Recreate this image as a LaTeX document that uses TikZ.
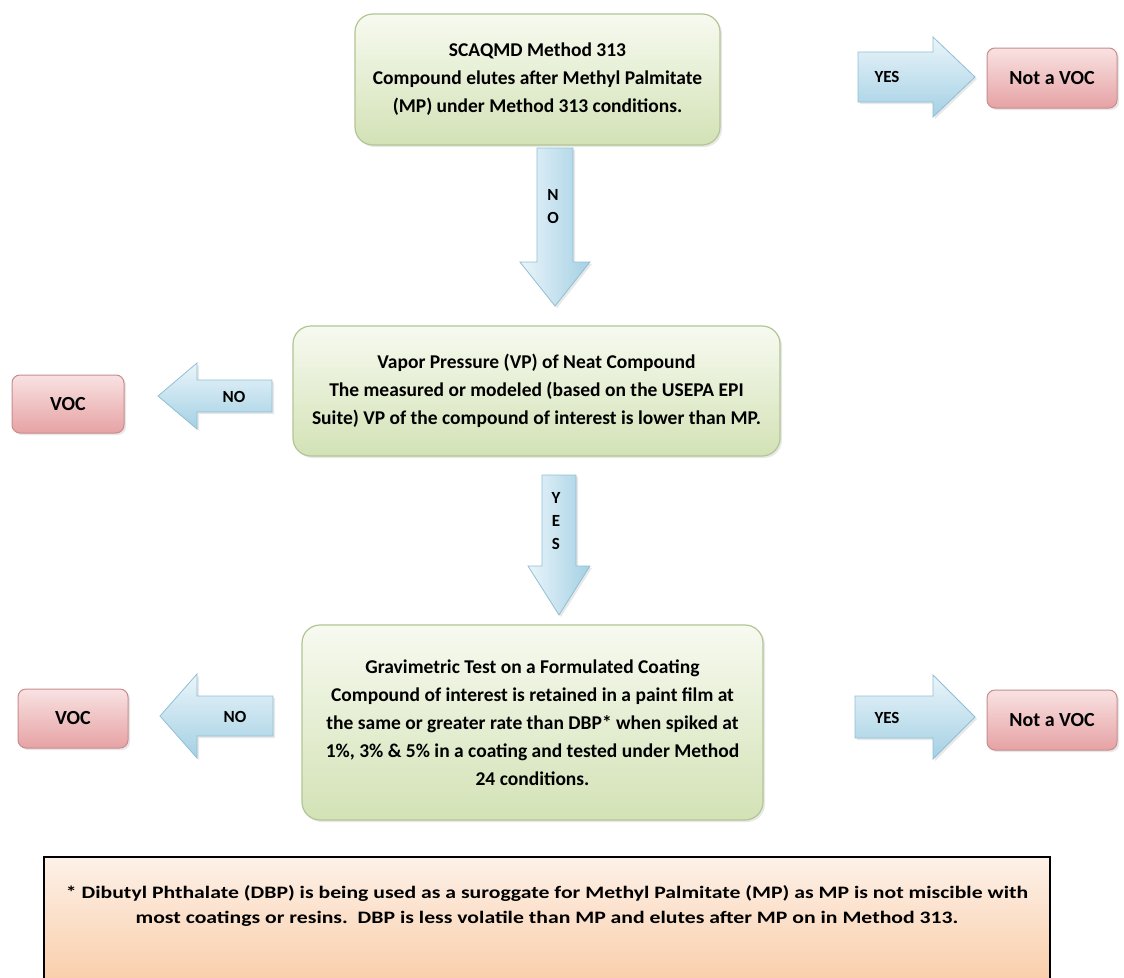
\documentclass[tikz,border=0pt]{standalone}
\usepackage{fontspec}
\usepackage{graphicx}
\setmainfont{Carlito}
\usetikzlibrary{shadows}
\definecolor{gtop}{HTML}{F7FAF0}
\definecolor{gbot}{HTML}{D3E2B6}
\definecolor{gline}{HTML}{B2C693}
\definecolor{rtop}{HTML}{F9E2E2}
\definecolor{rbot}{HTML}{E6A2A4}
\definecolor{rline}{HTML}{C98C8E}
\definecolor{btop}{HTML}{EAF5FA}
\definecolor{bbot}{HTML}{A4D0E4}
\definecolor{bline}{HTML}{90BFD5}
\definecolor{otop}{HTML}{FDF1E8}
\definecolor{obot}{HTML}{F9C9A1}
\newcommand\rarr[7]{\path[#1] (#2,#5-#6) -- (#3,#5-#6) -- (#3,#5-#7) -- (#4,#5) -- (#3,#5+#7) -- (#3,#5+#6) -- (#2,#5+#6) -- cycle;}
\newcommand\darr[7]{\path[#1] (#5-#6,#2) -- (#5-#6,#3) -- (#5-#7,#3) -- (#5,#4) -- (#5+#7,#3) -- (#5+#6,#3) -- (#5+#6,#2) -- cycle;}
\begin{document}
\begin{tikzpicture}[x=1pt,y=-1pt,
  softshadow/.style={drop shadow={opacity=0.18,shadow xshift=2pt,shadow yshift=-2pt}},
  greenbox/.style={draw=gline, line width=1.2pt, rounded corners=18pt, top color=gtop, bottom color=gbot,
    align=center, font=\bfseries\fontsize{19.5}{28}\selectfont, inner sep=0pt, softshadow},
  redbox/.style={draw=rline, line width=1pt, rounded corners=8pt, top color=rtop, bottom color=rbot,
    font=\bfseries\fontsize{20}{22}\selectfont, inner sep=0pt, softshadow},
  harrow/.style={draw=bline, line width=0.8pt, top color=btop, bottom color=bbot, softshadow},
  varrow/.style={draw=bline, line width=0.8pt, left color=btop, right color=bbot, softshadow},
  arrlabel/.style={font=\bfseries\fontsize{17}{23}\selectfont, align=center, inner sep=0pt}
]
\useasboundingbox (0,0) rectangle (1124,977);
\fill[white] (0,0) rectangle (1124,977);

% main boxes
\node[greenbox, minimum width=365pt, minimum height=131pt] (b1) at (537.5,79.5)
  {SCAQMD Method 313\\Compound elutes after Methyl Palmitate\\(MP) under Method 313 conditions.};
\node[greenbox, minimum width=487pt, minimum height=130pt] (b2) at (536.5,391)
  {Vapor Pressure (VP) of Neat Compound\\The measured or modeled (based on the USEPA EPI\\Suite) VP of the compound of interest is lower than MP.};
\node[greenbox, minimum width=461pt, minimum height=195pt] (b3) at (532.5,722.5)
  {Gravimetric Test on a Formulated Coating\\Compound of interest is retained in a paint film at\\the same or greater rate than DBP* when spiked at\\1\%, 3\% \& 5\% in a coating and tested under Method\\24 conditions.};

% outcome boxes
\node[redbox, minimum width=130pt, minimum height=60pt] (nv1) at (1052,78) {Not a VOC};
\node[redbox, minimum width=112pt, minimum height=58pt] (v1) at (68,404) {VOC};
\node[redbox, minimum width=110pt, minimum height=59pt] (v2) at (73,718.5) {VOC};
\node[redbox, minimum width=130pt, minimum height=60pt] (nv2) at (1052,720) {Not a VOC};

% block arrows
\rarr{harrow}{858}{933}{975}{77}{25}{40}
\darr{varrow}{148}{262}{306}{555}{18}{35}
\rarr{harrow}{272}{197}{158}{396}{16}{33}
\darr{varrow}{475}{566}{615}{559}{17}{31}
\rarr{harrow}{273}{197}{160}{716}{20}{42}
\rarr{harrow}{855}{933}{975}{717}{21}{42}

% arrow labels
\node[arrlabel] (l1) at (887,77) {YES};
\node[arrlabel] (l2) at (553,207) {N\\O};
\node[arrlabel] (l3) at (234,397) {NO};
\node[arrlabel] (l4) at (556,521) {Y\\E\\S};
\node[arrlabel] (l5) at (235,717) {NO};
\node[arrlabel] (l6) at (887,718) {YES};

% footnote
\fill[top color=otop, bottom color=obot] (44,857) rectangle (1050,1000);
\draw[line width=2.5pt] (44,1000) -- (44,857) -- (1050,857) -- (1050,1000);
\node[inner sep=0pt] (fn) at (547,906) {\resizebox{962pt}{\height}{\bfseries\fontsize{17.5}{25}\selectfont
  \begin{tabular}{@{}c@{}}* Dibutyl Phthalate (DBP) is being used as a suroggate for Methyl Palmitate (MP) as MP is not miscible with\\
  most coatings or resins.\ \ DBP is less volatile than MP and elutes after MP on in Method 313.\end{tabular}}};
\end{tikzpicture}
\end{document}
